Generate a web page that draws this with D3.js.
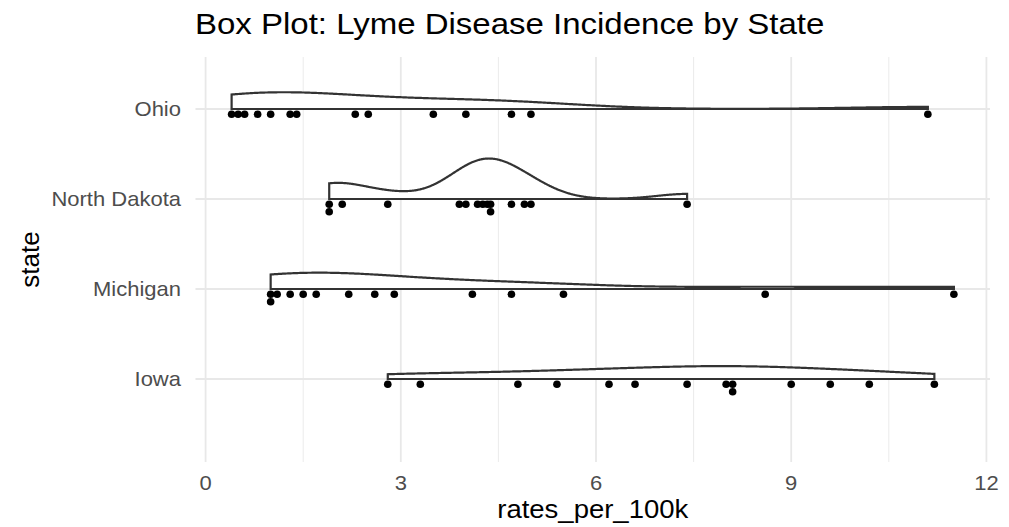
<!DOCTYPE html>
<html>
<head>
<meta charset="utf-8">
<script src="https://cdn.jsdelivr.net/npm/d3@7"></script>
<style>
  body { margin: 0; background: #fff; }
  svg { display: block; }
  text { font-family: "Liberation Sans", Arial, Helvetica, sans-serif; }
</style>
</head>
<body>
<svg id="chart" width="1009" height="527"></svg>
<script>
// Lyme disease incidence (cases per 100k) by state, one value per year
const states = ["Iowa", "Michigan", "North Dakota", "Ohio"];
const iowa = [2.8, 3.3, 4.8, 5.4, 6.2, 6.6, 7.4, 8.0, 8.1, 8.1, 9.0, 9.6, 10.2, 11.2];
const michigan = [1.0, 1.0, 1.1, 1.3, 1.5, 1.7, 2.2, 2.6, 2.9, 4.1, 4.7, 5.5, 8.6, 11.5];
const northDakota = [1.9, 1.9, 2.1, 2.8, 3.9, 4.0, 4.18, 4.26, 4.33, 4.38, 4.38, 4.7, 4.9, 5.0, 7.4];
const ohio = [0.4, 0.5, 0.6, 0.8, 1.0, 1.3, 1.4, 2.3, 2.5, 3.5, 4.0, 4.7, 5.0, 11.1];
const xTicks = [0, 3, 6, 9, 12];
const chartTitle = "Box Plot: Lyme Disease Incidence by State";
const xTitle = "rates_per_100k";
const yTitle = "state";

const seriesByState = { "Iowa": iowa, "Michigan": michigan, "North Dakota": northDakota, "Ohio": ohio };

// ---- layout ----
const panel = { left: 195.5, right: 990, top: 57, bottom: 462 };
const stretch = 1.1;            // horizontal text stretch
const violinHalfWidth = 0.45;   // half of a 0.9 violin width, in category units

const svg = d3.select("#chart");

// x: continuous, 5% expansion around the data range
const allVals = [].concat(iowa, michigan, northDakota, ohio);
const [vMin, vMax] = d3.extent(allVals);
const pad = (vMax - vMin) * 0.05;
const x = d3.scaleLinear().domain([vMin - pad, vMax + pad]).range([panel.left, panel.right]);

// y: categories at 1..n
const y = d3.scaleLinear().domain([0.078, 4.578]).range([panel.bottom, panel.top]);
const yPos = s => states.indexOf(s) + 1;

// ---- Gaussian kernel density, bandwidth by Silverman's rule (nrd0) ----
function bwNrd0(v) {
  const s = d3.sort(v);
  const sd = d3.deviation(s);
  const iqr = d3.quantile(s, 0.75) - d3.quantile(s, 0.25);
  let lo = Math.min(sd, iqr / 1.34);
  if (!(lo > 0)) lo = sd || Math.abs(s[0]) || 1;
  return 0.9 * lo * Math.pow(s.length, -0.2);
}
function kde(v, n = 512) {
  const bw = bwNrd0(v);
  const [lo, hi] = d3.extent(v);
  const k = 1 / (Math.sqrt(2 * Math.PI) * bw * v.length);
  return d3.range(n).map(i => {
    const t = lo + (hi - lo) * i / (n - 1);
    let sum = 0;
    for (const d of v) { const z = (t - d) / bw; sum += Math.exp(-0.5 * z * z); }
    return { x: t, d: sum * k };
  });
}
const densities = states.map(s => ({ state: s, curve: kde(seriesByState[s]) }));
const maxDensity = d3.max(densities, g => d3.max(g.curve, p => p.d));

// ---- grid ----
const grid = svg.append("g");
const minorTicks = xTicks.slice(0, -1).map((t, i) => (t + xTicks[i + 1]) / 2);
grid.selectAll("line.minor").data(minorTicks).join("line")
  .attr("x1", d => x(d)).attr("x2", d => x(d))
  .attr("y1", panel.top).attr("y2", panel.bottom)
  .attr("stroke", "#ebebeb").attr("stroke-width", 1);
grid.selectAll("line.majorx").data(xTicks).join("line")
  .attr("x1", d => x(d)).attr("x2", d => x(d))
  .attr("y1", panel.top).attr("y2", panel.bottom)
  .attr("stroke", "#e8e8e8").attr("stroke-width", 1.8);
grid.selectAll("line.majory").data(states).join("line")
  .attr("x1", panel.left).attr("x2", panel.right)
  .attr("y1", d => y(yPos(d))).attr("y2", d => y(yPos(d)))
  .attr("stroke", "#e8e8e8").attr("stroke-width", 1.8);

// ---- half violins ----
const area = d3.line().x(p => p[0]).y(p => p[1]);
svg.append("g").selectAll("path").data(densities).join("path")
  .attr("d", g => {
    const base = yPos(g.state);
    const top = g.curve.map(p => [x(p.x), y(base + violinHalfWidth * p.d / maxDensity)]);
    const first = g.curve[0].x, last = g.curve[g.curve.length - 1].x;
    const pts = [[x(first), y(base)]].concat(top, [[x(last), y(base)]]);
    return area(pts) + "Z";
  })
  .attr("fill", "#ffffff")
  .attr("stroke", "#333333")
  .attr("stroke-width", 2.2)
  .attr("stroke-linejoin", "miter");

// ---- points, repeated values stacked downward ----
const pointData = [];
states.forEach(s => {
  const seen = new Map();
  seriesByState[s].forEach(v => {
    const lvl = seen.get(v) || 0;
    seen.set(v, lvl + 1);
    pointData.push({ state: s, value: v, level: lvl });
  });
});
svg.append("g").selectAll("circle").data(pointData).join("circle")
  .attr("cx", d => x(d.value))
  .attr("cy", d => y(yPos(d.state)) + 5.3 + d.level * 7.4)
  .attr("r", 3.8)
  .attr("fill", "#000000");

// ---- text helper (slightly widened glyphs) ----
function label(parent, px, py, str, opts) {
  return parent.append("text")
    .attr("transform", `translate(${px},${py}) scale(${stretch},1)`)
    .attr("text-anchor", opts.anchor || "start")
    .attr("font-size", opts.size)
    .attr("fill", opts.color || "#000")
    .attr("dy", opts.dy || 0)
    .text(str);
}

// y tick labels
const axisG = svg.append("g");
states.forEach(s => label(axisG, 181, y(yPos(s)), s, { anchor: "end", size: 20, color: "#4d4d4d", dy: "0.35em" }));
// x tick labels
xTicks.forEach(t => label(axisG, x(t), 490, d3.format("d")(t), { anchor: "middle", size: 20, color: "#4d4d4d" }));

// axis titles
label(svg, (panel.left + panel.right) / 2, 518, xTitle, { anchor: "middle", size: 25 });
svg.append("text")
  .attr("transform", `translate(39,${(panel.top + panel.bottom) / 2}) rotate(-90)`)
  .attr("text-anchor", "middle")
  .attr("font-size", 26)
  .attr("fill", "#000")
  .text(yTitle);

// chart title
label(svg, 195, 34, chartTitle, { size: 30 });
</script>
</body>
</html>
